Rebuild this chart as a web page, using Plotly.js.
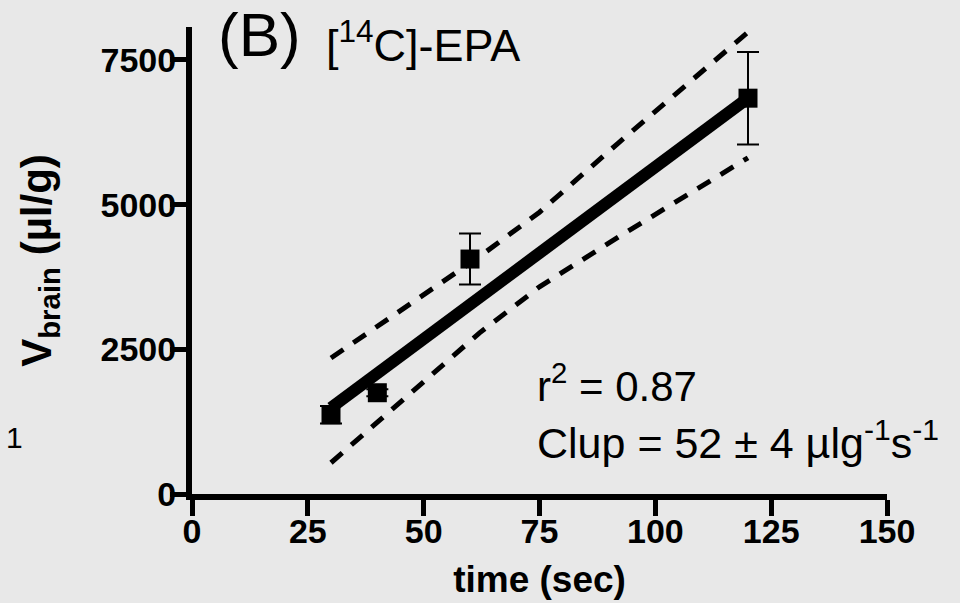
<!DOCTYPE html>
<html>
<head>
<meta charset="utf-8">
<script src="https://cdn.plot.ly/plotly-3.0.1.min.js"></script>
<style>html,body{margin:0;padding:0;background:#e8e8e8;}</style>
</head>
<body>
<div id="chart" style="width:960px;height:603px;"></div>
<script>
// Data points (time in sec, V_brain in µl/g)
const timeSec = [30, 40, 60, 120];
const vBrain = [1370, 1750, 4060, 6840];
const vBrainErr = [150, 60, 440, 800];

// Regression line
const fitX = [30, 120];
const fitY = [1490, 6840];

// 95% confidence band
const bandX = [30, 45, 62, 75, 92, 120];
const bandUpper = [2350, 3170, 4100, 4870, 6065, 7980];
const bandLower = [540, 1590, 2780, 3580, 4440, 5810];

// Axis ticks
const xTicks = [0, 25, 50, 75, 100, 125, 150];
const yTicks = [0, 2500, 5000, 7500];

const sans = '"Liberation Sans", Arial, Helvetica, sans-serif';

const traces = [
  {x: bandX, y: bandUpper, mode: 'lines', line: {color: 'black', width: 5, dash: '15px,12px'}, hoverinfo: 'skip', showlegend: false},
  {x: bandX, y: bandLower, mode: 'lines', line: {color: 'black', width: 5, dash: '15px,12px'}, hoverinfo: 'skip', showlegend: false},
  {x: fitX, y: fitY, mode: 'lines', line: {color: 'black', width: 12}, showlegend: false},
  {x: timeSec, y: vBrain, mode: 'markers', marker: {symbol: 'square', size: 19, color: 'black'},
   error_y: {type: 'data', array: vBrainErr, visible: true, color: 'black', thickness: 2, width: 11},
   showlegend: false}
];

const layout = {
  width: 960, height: 603,
  paper_bgcolor: '#e8e8e8', plot_bgcolor: '#e8e8e8',
  margin: {l: 192, r: 73, t: 27, b: 109},
  showlegend: false,
  xaxis: {
    range: [0, 150], tickvals: xTicks, ticktext: xTicks.map(String),
    showline: true, linewidth: 6, linecolor: 'black', mirror: false,
    ticks: 'outside', ticklen: 16, tickwidth: 5, tickcolor: 'black',
    showgrid: false, zeroline: false, ticklabelstandoff: -14,
    tickfont: {family: sans, size: 34, color: 'black', weight: 'bold'},
    title: {text: 'time (sec)', font: {family: sans, size: 37, color: 'black', weight: 'bold'}, standoff: 19}
  },
  yaxis: {
    range: [0, 8070], tickvals: yTicks, ticktext: yTicks.map(String),
    showline: true, linewidth: 6, linecolor: 'black', mirror: false,
    ticks: 'outside', ticklen: 16, tickwidth: 5, tickcolor: 'black',
    showgrid: false, zeroline: false, ticklabelstandoff: -13,
    tickfont: {family: sans, size: 34, color: 'black', weight: 'bold'},
    title: {text: 'V<sub>brain</sub> (µl/g)', font: {family: sans, size: 42, color: 'black', weight: 'bold'}, standoff: 38}
  },
  annotations: [
    {xref: 'paper', yref: 'paper', x: 0.034, y: 0.983, xanchor: 'left', yanchor: 'middle',
     text: '(B)', showarrow: false, font: {family: sans, size: 62, color: 'black'}},
    {xref: 'paper', yref: 'paper', x: 0.19, y: 0.968, xanchor: 'left', yanchor: 'middle',
     text: '[<sup>14</sup>C]-EPA', showarrow: false, font: {family: sans, size: 45, color: 'black'}},
    {xref: 'x', yref: 'y', x: 74, y: 1918, xanchor: 'left', yanchor: 'middle',
     text: 'r<sup>2</sup> = 0.87', showarrow: false, font: {family: sans, size: 42, color: 'black'}},
    {xref: 'x', yref: 'y', x: 74, y: 933, xanchor: 'left', yanchor: 'middle',
     text: 'Clup = 52 ± 4 µlg<sup>-1</sup>s<sup>-1</sup>', showarrow: false, font: {family: sans, size: 43, color: 'black'}},
    {xref: 'paper', yref: 'paper', x: -0.27, y: 0.122, xanchor: 'left', yanchor: 'middle',
     text: '1', showarrow: false, font: {family: sans, size: 30, color: 'black'}}
  ]
};

Plotly.newPlot('chart', traces, layout, {displayModeBar: false, staticPlot: true});
</script>
</body>
</html>
